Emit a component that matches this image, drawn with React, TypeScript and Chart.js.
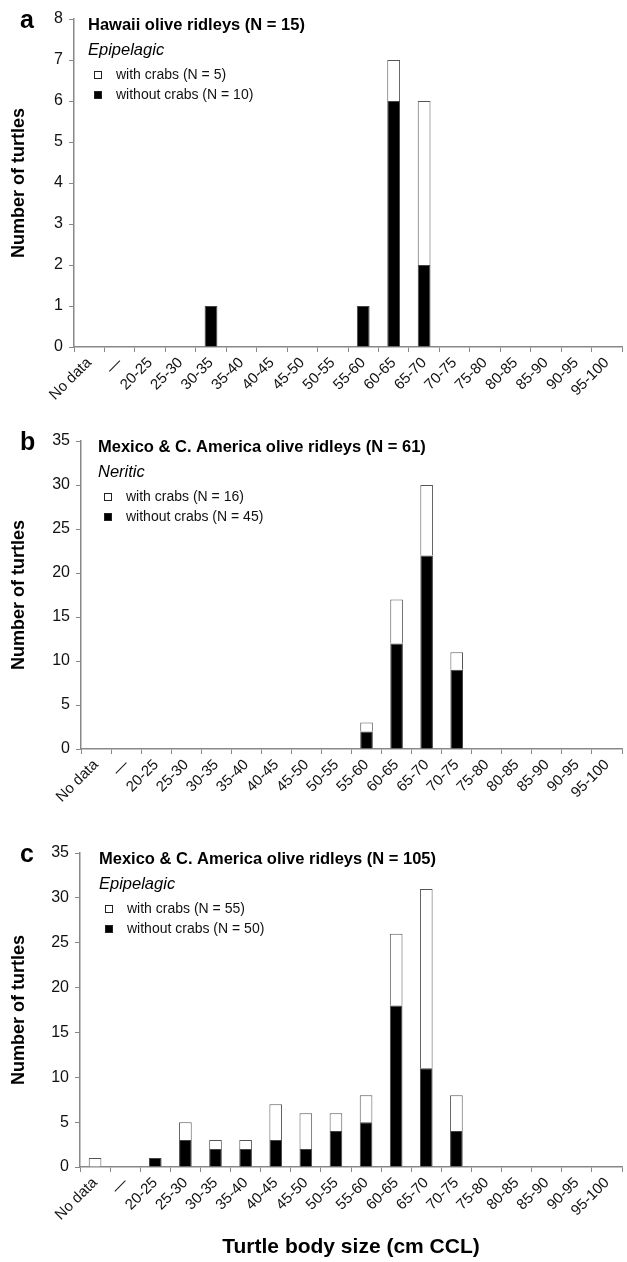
import React, { useEffect, useRef } from "react";
import { Chart, registerables } from "chart.js";

Chart.register(...registerables);

const FONT = '"Liberation Sans", Arial, Helvetica, sans-serif';

// ---- data ----
const categories = [
  "No data", "—", "20-25", "25-30", "30-35", "35-40", "40-45", "45-50", "50-55",
  "55-60", "60-65", "65-70", "70-75", "75-80", "80-85", "85-90", "90-95", "95-100",
];

// Panel a: Hawaii olive ridleys, epipelagic
const hawaiiWithout = [0, 0, 0, 0, 1, 0, 0, 0, 0, 1, 6, 2, 0, 0, 0, 0, 0, 0];
const hawaiiWith = [0, 0, 0, 0, 0, 0, 0, 0, 0, 0, 1, 4, 0, 0, 0, 0, 0, 0];

// Panel b: Mexico & C. America, neritic
const neriticWithout = [0, 0, 0, 0, 0, 0, 0, 0, 0, 2, 12, 22, 9, 0, 0, 0, 0, 0];
const neriticWith = [0, 0, 0, 0, 0, 0, 0, 0, 0, 1, 5, 8, 2, 0, 0, 0, 0, 0];

// Panel c: Mexico & C. America, epipelagic
const epiWithout = [0, 0, 1, 3, 2, 2, 3, 2, 4, 5, 18, 11, 4, 0, 0, 0, 0, 0];
const epiWith = [1, 0, 0, 2, 1, 1, 4, 4, 2, 3, 8, 20, 4, 0, 0, 0, 0, 0];

const panelLetters = ["a", "b", "c"];
const panelTitles = [
  "Hawaii olive ridleys (N = 15)",
  "Mexico & C. America olive ridleys (N = 61)",
  "Mexico & C. America olive ridleys (N = 105)",
];
const panelSubtitles = ["Epipelagic", "Neritic", "Epipelagic"];
const withLabels = ["with crabs (N = 5)", "with crabs (N = 16)", "with crabs (N = 55)"];
const withoutLabels = ["without crabs (N = 10)", "without crabs (N = 45)", "without crabs (N = 50)"];
const yMaxes = [8, 35, 35];
const ySteps = [1, 5, 5];
const yTitle = "Number of turtles";
const xTitle = "Turtle body size (cm CCL)";

// ---- layout (page pixels) ----
type Panel = {
  idx: number;
  top: number;
  height: number;
  padTop: number;
  axisWidth: number;
  xAxisHeight: number;
  textDx: number;
  withData: number[];
  withoutData: number[];
  showXTitle: boolean;
};

const panels: Panel[] = [
  { idx: 0, top: 0, height: 407, padTop: 19, axisWidth: 74, xAxisHeight: 60, textDx: 14, withData: hawaiiWith, withoutData: hawaiiWithout, showXTitle: false },
  { idx: 1, top: 420, height: 389, padTop: 21, axisWidth: 81, xAxisHeight: 60, textDx: 17, withData: neriticWith, withoutData: neriticWithout, showXTitle: false },
  { idx: 2, top: 830, height: 432, padTop: 23, axisWidth: 80, xAxisHeight: 95, textDx: 19, withData: epiWith, withoutData: epiWithout, showXTitle: true },
];

const panelTextPlugin = {
  id: "panelText",
  afterDraw(chart: any, _args: any, opts: any) {
    const { ctx, chartArea } = chart;
    const top = chartArea.top;
    const left = chartArea.left;
    ctx.save();
    ctx.textBaseline = "middle";
    ctx.textAlign = "left";
    ctx.fillStyle = "#000";
    ctx.font = `bold 25px ${FONT}`;
    ctx.fillText(opts.letter, 20, top + 2);

    const x0 = left + opts.dx;
    ctx.font = `bold 16.5px ${FONT}`;
    ctx.fillText(opts.title, x0, top + 6);
    ctx.font = `italic 16.5px ${FONT}`;
    ctx.fillText(opts.subtitle, x0, top + 31);

    const ds = chart.data.datasets;
    const items = [ds[1], ds[0]];
    const ys = [top + 56, top + 76];
    ctx.font = `14px ${FONT}`;
    items.forEach((d: any, i: number) => {
      const y = ys[i];
      ctx.fillStyle = d.backgroundColor;
      ctx.fillRect(x0 + 6, y - 4, 8, 8);
      ctx.strokeStyle = "#222";
      ctx.lineWidth = 1;
      ctx.strokeRect(x0 + 6.5, y - 3.5, 7, 7);
      ctx.fillStyle = "#111";
      ctx.fillText(d.label, x0 + 28, y);
    });
    ctx.restore();
  },
};

function PanelChart({ p }: { p: Panel }) {
  const ref = useRef<HTMLCanvasElement | null>(null);
  useEffect(() => {
    if (!ref.current) return;
    const i = p.idx;
    const chart = new Chart(ref.current, {
      type: "bar",
      data: {
        labels: categories,
        datasets: [
          {
            label: withoutLabels[i],
            data: p.withoutData,
            backgroundColor: "#000",
            borderColor: "#444",
            borderWidth: 1,
            barPercentage: 0.42,
            categoryPercentage: 1,
          },
          {
            label: withLabels[i],
            data: p.withData,
            backgroundColor: "#fff",
            borderColor: "#555",
            borderWidth: 1,
            barPercentage: 0.42,
            categoryPercentage: 1,
          },
        ],
      },
      options: {
        animation: false,
        responsive: false,
        maintainAspectRatio: false,
        layout: { padding: { top: p.padTop, right: 5, left: 0, bottom: 0 } },
        plugins: {
          legend: { display: false },
          tooltip: { enabled: false },
          title: { display: false },
          // @ts-ignore
          panelText: {
            letter: panelLetters[i],
            title: panelTitles[i],
            subtitle: panelSubtitles[i],
            dx: p.textDx,
          },
        },
        scales: {
          x: {
            stacked: true,
            grid: { drawOnChartArea: false, drawTicks: true, tickLength: 5, color: "#888", offset: true },
            border: { display: true, color: "#888", width: 1.5 },
            ticks: {
              autoSkip: false,
              maxRotation: 45,
              minRotation: 45,
              padding: 2,
              color: "#111",
              font: { family: FONT, size: 15 },
            },
            title: {
              display: p.showXTitle,
              text: xTitle,
              color: "#000",
              font: { family: FONT, size: 21, weight: "bold" },
              padding: { top: 0, bottom: 2 },
            },
            afterFit: (scale: any) => {
              scale.height = p.xAxisHeight;
            },
          },
          y: {
            stacked: true,
            min: 0,
            max: yMaxes[i],
            grid: { drawOnChartArea: false, drawTicks: true, tickLength: 5, color: "#888" },
            border: { display: true, color: "#888", width: 1.5 },
            ticks: {
              stepSize: ySteps[i],
              padding: 6,
              color: "#111",
              font: { family: FONT, size: 16 },
            },
            title: {
              display: true,
              text: yTitle,
              color: "#000",
              font: { family: FONT, size: 18, weight: "bold" },
              padding: { top: 8, bottom: 0 },
            },
            afterFit: (scale: any) => {
              scale.width = p.axisWidth;
            },
          },
        },
      },
      plugins: [panelTextPlugin],
    } as any);
    return () => chart.destroy();
  }, [p]);
  return (
    <canvas
      ref={ref}
      width={627}
      height={p.height}
      style={{ position: "absolute", left: 0, top: p.top, width: 627, height: p.height }}
    />
  );
}

export default function App() {
  return (
    <div style={{ position: "absolute", left: 0, top: 0, width: 627, height: 1262, background: "#fff" }}>
      {panels.map((p) => (
        <PanelChart key={p.idx} p={p} />
      ))}
    </div>
  );
}
